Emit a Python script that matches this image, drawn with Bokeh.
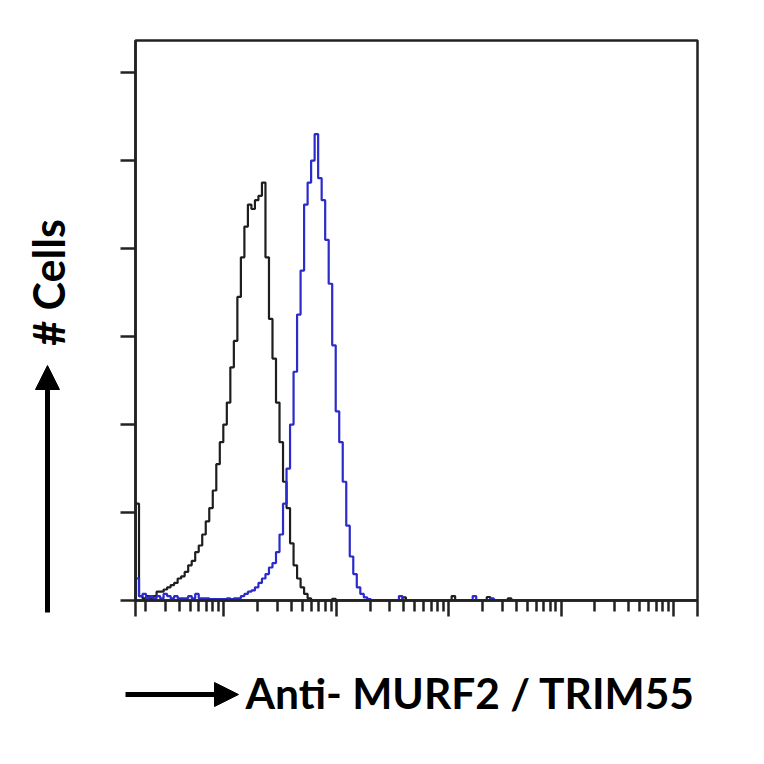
import numpy as np
from bokeh.plotting import figure
from bokeh.models import Range1d, FixedTicker, Label, Arrow, NormalHead
from bokeh.layouts import row, column
from bokeh.embed import file_html
from bokeh.resources import INLINE

# ---- data: histogram channels (1/32 decade wide) ----
log_start = 0.214          # log10 of left end of axis
log_end = 5.214            # log10 of right end of axis
channels_per_decade = 32

isotype_counts = [22, 1, 0.5, 1, 0.5, 1, 2, 2, 2.5, 3,
                  3.5, 4, 5, 5.5, 6.5, 8, 9, 11, 12.5, 15,
                  18, 21, 25, 31, 36, 40, 45, 53, 59, 69,
                  78, 85, 90, 89, 91, 92, 95, 78, 64, 55,
                  45, 36, 27, 21, 13, 8, 5, 3, 1.5, 0.5,
                  0, 0, 0, 0, 0, 0, 0.4, 0, 0, 0,
                  0, 0, 0, 0, 0, 0, 0, 0, 0, 0,
                  0, 0, 0, 0, 0, 0, 0.7, 0, 0, 0,
                  0, 0, 0, 0, 0, 0, 0, 0, 0, 0,
                  1, 0, 0, 0, 0, 0, 0, 0, 0, 0,
                  0.8, 0, 0, 0, 0, 0, 0.5, 0, 0, 0]
antibody_counts = [5, 1, 1.5, 0.5, 1, 0.5, 1, 0.5, 1.5, 1,
                   0.5, 1, 0.5, 0.5, 0.5, 1, 0.5, 1.5, 0.5, 0.5,
                   0.5, 0.3, 0.3, 0.3, 0.3, 0.3, 0.5, 0.3, 0.5, 0.5,
                   1, 1.5, 2, 2.3, 3, 4, 5, 6, 7.5, 8.5,
                   11, 15, 22, 30, 40, 52, 65, 75, 90, 95,
                   100, 106, 96, 91, 82, 72, 58, 43, 36, 27,
                   17, 10, 6, 3, 1.5, 0.7, 0.3, 0, 0, 0,
                   0, 0, 0, 0, 0, 1, 0, 0, 0, 0,
                   0, 0, 0, 0, 0, 0, 0, 0, 0, 0,
                   0, 0, 0, 0, 0, 0, 1, 0, 0, 0,
                   0, 0.5, 0, 0, 0, 0, 0, 0, 0, 0]

y_ticks = [0, 20, 40, 60, 80, 100, 120]
y_max = 127.3

x_title = "Anti- MURF2 / TRIM55"
y_title = "# Cells"

n_ch = int(round((log_end - log_start) * channels_per_decade))
edges = 10 ** (log_start + np.arange(n_ch + 1) / channels_per_decade)


def pad(c):
    return np.array(list(c) + [0] * (n_ch - len(c)), dtype=float)


def blank(w, h, x0, y0):
    # empty panel whose data coordinates equal page pixels
    f = figure(width=w, height=h, x_range=Range1d(x0, x0 + w),
               y_range=Range1d(y0 + h, y0),
               output_backend="svg", toolbar_location=None,
               x_axis_location=None, y_axis_location=None,
               min_border_left=0, min_border_right=0,
               min_border_top=0, min_border_bottom=0)
    f.title.visible = False
    f.outline_line_color = None
    f.grid.visible = False
    f.background_fill_color = "white"
    f.border_fill_color = "white"
    return f


p = figure(width=656, height=630, x_axis_type="log",
           x_range=Range1d(10 ** log_start, 10 ** log_end),
           y_range=Range1d(0, y_max),
           output_backend="svg", toolbar_location=None,
           min_border_left=35, min_border_right=59,
           min_border_top=40, min_border_bottom=30)
p.background_fill_color = "white"
p.border_fill_color = "white"
p.grid.visible = False
p.outline_line_color = "#222222"
p.outline_line_width = 2.5

for counts, color in [(isotype_counts, "#1e1e1e"), (antibody_counts, "#2b2bcc")]:
    c = pad(counts)
    xs = np.concatenate([[edges[0]], edges[:-1], [edges[-1]]])
    ys = np.concatenate([[0], c, [0]])
    p.step(xs, ys, mode="after", line_color=color, line_width=2.2)

decades = [10, 100, 1000, 10000, 100000]
minor = [k * 10 ** d for d in range(0, 6) for k in range(2, 10)]
p.xaxis.ticker = FixedTicker(ticks=[10 ** log_start] + decades + [10 ** log_end],
                             minor_ticks=minor)
p.yaxis.ticker = FixedTicker(ticks=y_ticks, minor_ticks=[])
for ax in (p.xaxis, p.yaxis):
    ax.axis_line_color = "#222222"
    ax.axis_line_width = 2.5
    ax.major_tick_line_color = "#222222"
    ax.minor_tick_line_color = "#222222"
    ax.major_tick_line_width = 2.5
    ax.minor_tick_line_width = 2.5
    ax.major_tick_in = 0
    ax.minor_tick_in = 0
    ax.major_label_text_font_size = "0px"
p.xaxis.major_tick_out = 16
p.xaxis.minor_tick_out = 11
p.yaxis.major_tick_out = 15
p.yaxis.minor_tick_out = 0

font = "Lato"
head = dict(size=24, fill_color="black", line_color="black")

# left panel: vertical arrow + y title
left = blank(100, 756, 0, 0)
left.add_layout(Arrow(x_start=47, y_start=612, x_end=47, y_end=365,
                      line_width=5, line_color="black", end=NormalHead(**head)))
left.add_layout(Label(x=48, y=282, text=y_title, angle=np.pi / 2,
                      text_font=font, text_font_style="bold",
                      text_font_size="43px", text_color="black",
                      text_baseline="middle", text_align="center"))

# bottom panel: horizontal arrow + x title
bottom = blank(656, 126, 100, 630)
bottom.add_layout(Arrow(x_start=125, y_start=694, x_end=238, y_end=694,
                        line_width=5, line_color="black", end=NormalHead(**head)))
bottom.add_layout(Label(x=245, y=692, text=x_title,
                        text_font=font, text_font_style="bold",
                        text_font_size="42.5px", text_color="black",
                        text_baseline="alphabetic", text_align="left"))

layout = row(left, column(row(p), bottom, spacing=0), spacing=0)
open("out.html", "w").write(file_html(layout, INLINE))
